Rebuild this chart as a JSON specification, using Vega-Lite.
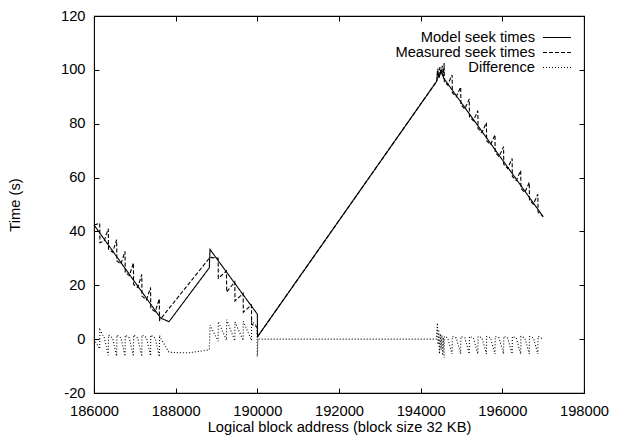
{
  "$schema": "https://vega.github.io/schema/vega-lite/v6.json",
  "width": 490,
  "height": 377,
  "autosize": {"type": "none"},
  "padding": {"left": 94, "top": 16, "right": 35, "bottom": 44},
  "background": "white",
  "config": {
    "view": {"stroke": "black", "strokeWidth": 1.1},
    "font": "Liberation Sans",
    "axis": {
      "grid": false,
      "domain": false,
      "tickColor": "black",
      "tickWidth": 1,
      "tickSize": -5,
      "labelFont": "Liberation Sans",
      "labelFontSize": 14.7,
      "labelColor": "black",
      "titleFont": "Liberation Sans",
      "titleFontSize": 14.7,
      "titleFontWeight": "normal",
      "titleColor": "black"
    }
  },
  "datasets": {
    "seek": [
      {"s": "Model seek times", "x": 186000, "y": 42.4},
      {"s": "Model seek times", "x": 187633, "y": 7.8},
      {"s": "Model seek times", "x": 187837, "y": 6.5},
      {"s": "Model seek times", "x": 188824, "y": 26.5},
      {"s": "Model seek times", "x": 188841, "y": 33.3},
      {"s": "Model seek times", "x": 190000, "y": 9.3},
      {"s": "Model seek times", "x": 190005, "y": 0.9},
      {"s": "Model seek times", "x": 194380, "y": 95.5},
      {"s": "Model seek times", "x": 194400, "y": 96},
      {"s": "Model seek times", "x": 194410, "y": 99.5},
      {"s": "Model seek times", "x": 194460, "y": 97.5},
      {"s": "Model seek times", "x": 194500, "y": 100},
      {"s": "Model seek times", "x": 194540, "y": 98},
      {"s": "Model seek times", "x": 194560, "y": 97},
      {"s": "Model seek times", "x": 197000, "y": 45.5},

      {"s": "Measured seek times", "x": 186000, "y": 42.4},
      {"s": "Measured seek times", "x": 186140, "y": 43.0},
      {"s": "Measured seek times", "x": 186145, "y": 35.8},
      {"s": "Measured seek times", "x": 186250, "y": 36.5},
      {"s": "Measured seek times", "x": 186350, "y": 41.0},
      {"s": "Measured seek times", "x": 186355, "y": 33.4},
      {"s": "Measured seek times", "x": 186455, "y": 32.3},
      {"s": "Measured seek times", "x": 186555, "y": 36.9},
      {"s": "Measured seek times", "x": 186560, "y": 29.0},
      {"s": "Measured seek times", "x": 186660, "y": 27.9},
      {"s": "Measured seek times", "x": 186760, "y": 32.6},
      {"s": "Measured seek times", "x": 186765, "y": 24.7},
      {"s": "Measured seek times", "x": 186865, "y": 23.6},
      {"s": "Measured seek times", "x": 186965, "y": 28.3},
      {"s": "Measured seek times", "x": 186970, "y": 20.3},
      {"s": "Measured seek times", "x": 187070, "y": 19.2},
      {"s": "Measured seek times", "x": 187170, "y": 24.0},
      {"s": "Measured seek times", "x": 187175, "y": 16.0},
      {"s": "Measured seek times", "x": 187285, "y": 14.6},
      {"s": "Measured seek times", "x": 187385, "y": 19.2},
      {"s": "Measured seek times", "x": 187390, "y": 11.4},
      {"s": "Measured seek times", "x": 187500, "y": 10.2},
      {"s": "Measured seek times", "x": 187600, "y": 15.0},
      {"s": "Measured seek times", "x": 187605, "y": 7.0},
      {"s": "Measured seek times", "x": 188841, "y": 30.4},
      {"s": "Measured seek times", "x": 189040, "y": 30.0},
      {"s": "Measured seek times", "x": 189045, "y": 22.6},
      {"s": "Measured seek times", "x": 189244, "y": 25.3},
      {"s": "Measured seek times", "x": 189249, "y": 17.5},
      {"s": "Measured seek times", "x": 189448, "y": 21.3},
      {"s": "Measured seek times", "x": 189453, "y": 14.2},
      {"s": "Measured seek times", "x": 189652, "y": 17.0},
      {"s": "Measured seek times", "x": 189657, "y": 10.0},
      {"s": "Measured seek times", "x": 189856, "y": 12.7},
      {"s": "Measured seek times", "x": 189861, "y": 5.5},
      {"s": "Measured seek times", "x": 189995, "y": 4.6},
      {"s": "Measured seek times", "x": 190005, "y": 0.9},
      {"s": "Measured seek times", "x": 194380, "y": 95.5},
      {"s": "Measured seek times", "x": 194400, "y": 96.5},
      {"s": "Measured seek times", "x": 194420, "y": 100.5},
      {"s": "Measured seek times", "x": 194440, "y": 97.0},
      {"s": "Measured seek times", "x": 194470, "y": 101.0},
      {"s": "Measured seek times", "x": 194500, "y": 98.0},
      {"s": "Measured seek times", "x": 194530, "y": 101.5},
      {"s": "Measured seek times", "x": 194560, "y": 97.5},
      {"s": "Measured seek times", "x": 194575, "y": 102.5},
      {"s": "Measured seek times", "x": 194580, "y": 95.6},
      {"s": "Measured seek times", "x": 194660, "y": 94.4},
      {"s": "Measured seek times", "x": 194770, "y": 98.1},
      {"s": "Measured seek times", "x": 194775, "y": 91.5},
      {"s": "Measured seek times", "x": 194870, "y": 90.0},
      {"s": "Measured seek times", "x": 194980, "y": 93.6},
      {"s": "Measured seek times", "x": 194985, "y": 87.0},
      {"s": "Measured seek times", "x": 195080, "y": 85.5},
      {"s": "Measured seek times", "x": 195190, "y": 89.2},
      {"s": "Measured seek times", "x": 195195, "y": 82.6},
      {"s": "Measured seek times", "x": 195290, "y": 81.1},
      {"s": "Measured seek times", "x": 195400, "y": 84.8},
      {"s": "Measured seek times", "x": 195405, "y": 78.2},
      {"s": "Measured seek times", "x": 195500, "y": 76.7},
      {"s": "Measured seek times", "x": 195610, "y": 80.4},
      {"s": "Measured seek times", "x": 195615, "y": 73.7},
      {"s": "Measured seek times", "x": 195710, "y": 72.2},
      {"s": "Measured seek times", "x": 195820, "y": 75.9},
      {"s": "Measured seek times", "x": 195825, "y": 69.3},
      {"s": "Measured seek times", "x": 195920, "y": 67.8},
      {"s": "Measured seek times", "x": 196030, "y": 71.5},
      {"s": "Measured seek times", "x": 196035, "y": 64.9},
      {"s": "Measured seek times", "x": 196130, "y": 63.4},
      {"s": "Measured seek times", "x": 196240, "y": 67.1},
      {"s": "Measured seek times", "x": 196245, "y": 60.4},
      {"s": "Measured seek times", "x": 196340, "y": 58.9},
      {"s": "Measured seek times", "x": 196450, "y": 62.6},
      {"s": "Measured seek times", "x": 196455, "y": 56.0},
      {"s": "Measured seek times", "x": 196550, "y": 54.5},
      {"s": "Measured seek times", "x": 196660, "y": 58.2},
      {"s": "Measured seek times", "x": 196665, "y": 51.6},
      {"s": "Measured seek times", "x": 196760, "y": 50.1},
      {"s": "Measured seek times", "x": 196870, "y": 53.8},
      {"s": "Measured seek times", "x": 196875, "y": 47.2},
      {"s": "Measured seek times", "x": 197000, "y": 45.5},

      {"s": "Difference", "x": 186000, "y": 0},
      {"s": "Difference", "x": 186140, "y": -3.6},
      {"s": "Difference", "x": 186145, "y": 3.5},
      {"s": "Difference", "x": 186250, "y": 0.6},
      {"s": "Difference", "x": 186350, "y": -6.0},
      {"s": "Difference", "x": 186355, "y": 1.5},
      {"s": "Difference", "x": 186455, "y": 0.5},
      {"s": "Difference", "x": 186555, "y": -6.3},
      {"s": "Difference", "x": 186560, "y": 1.5},
      {"s": "Difference", "x": 186660, "y": 0.5},
      {"s": "Difference", "x": 186760, "y": -6.3},
      {"s": "Difference", "x": 186765, "y": 1.5},
      {"s": "Difference", "x": 186865, "y": 0.5},
      {"s": "Difference", "x": 186965, "y": -6.4},
      {"s": "Difference", "x": 186970, "y": 1.5},
      {"s": "Difference", "x": 187070, "y": 0.5},
      {"s": "Difference", "x": 187170, "y": -6.4},
      {"s": "Difference", "x": 187175, "y": 1.5},
      {"s": "Difference", "x": 187285, "y": 0.6},
      {"s": "Difference", "x": 187385, "y": -6.2},
      {"s": "Difference", "x": 187390, "y": 1.5},
      {"s": "Difference", "x": 187500, "y": 0.4},
      {"s": "Difference", "x": 187600, "y": -6.5},
      {"s": "Difference", "x": 187605, "y": 1.4},
      {"s": "Difference", "x": 187633, "y": 0.3},
      {"s": "Difference", "x": 187837, "y": -4.9},
      {"s": "Difference", "x": 188300, "y": -5.1},
      {"s": "Difference", "x": 188824, "y": -4.0},
      {"s": "Difference", "x": 188841, "y": 5.2},
      {"s": "Difference", "x": 189040, "y": -0.8},
      {"s": "Difference", "x": 189045, "y": 6.5},
      {"s": "Difference", "x": 189244, "y": -0.3},
      {"s": "Difference", "x": 189249, "y": 7.2},
      {"s": "Difference", "x": 189448, "y": -0.6},
      {"s": "Difference", "x": 189453, "y": 6.4},
      {"s": "Difference", "x": 189652, "y": -0.5},
      {"s": "Difference", "x": 189657, "y": 6.6},
      {"s": "Difference", "x": 189856, "y": -0.4},
      {"s": "Difference", "x": 189861, "y": 6.7},
      {"s": "Difference", "x": 189995, "y": 4.8},
      {"s": "Difference", "x": 190000, "y": -6.5},
      {"s": "Difference", "x": 190015, "y": 0},
      {"s": "Difference", "x": 194380, "y": 0},
      {"s": "Difference", "x": 194395, "y": 3},
      {"s": "Difference", "x": 194410, "y": 6},
      {"s": "Difference", "x": 194425, "y": -2},
      {"s": "Difference", "x": 194440, "y": 3.5},
      {"s": "Difference", "x": 194460, "y": -5.5},
      {"s": "Difference", "x": 194480, "y": 2},
      {"s": "Difference", "x": 194500, "y": -4},
      {"s": "Difference", "x": 194520, "y": 1.5},
      {"s": "Difference", "x": 194540, "y": -6},
      {"s": "Difference", "x": 194560, "y": 0.5},
      {"s": "Difference", "x": 194575, "y": -7},
      {"s": "Difference", "x": 194580, "y": 1.0},
      {"s": "Difference", "x": 194660, "y": 0.5},
      {"s": "Difference", "x": 194770, "y": -5.5},
      {"s": "Difference", "x": 194775, "y": 1.0},
      {"s": "Difference", "x": 194870, "y": 0.5},
      {"s": "Difference", "x": 194980, "y": -5.5},
      {"s": "Difference", "x": 194985, "y": 1.0},
      {"s": "Difference", "x": 195080, "y": 0.5},
      {"s": "Difference", "x": 195190, "y": -5.5},
      {"s": "Difference", "x": 195195, "y": 1.0},
      {"s": "Difference", "x": 195290, "y": 0.5},
      {"s": "Difference", "x": 195400, "y": -5.5},
      {"s": "Difference", "x": 195405, "y": 1.0},
      {"s": "Difference", "x": 195500, "y": 0.5},
      {"s": "Difference", "x": 195610, "y": -5.5},
      {"s": "Difference", "x": 195615, "y": 1.0},
      {"s": "Difference", "x": 195710, "y": 0.5},
      {"s": "Difference", "x": 195820, "y": -5.5},
      {"s": "Difference", "x": 195825, "y": 1.0},
      {"s": "Difference", "x": 195920, "y": 0.5},
      {"s": "Difference", "x": 196030, "y": -5.5},
      {"s": "Difference", "x": 196035, "y": 1.0},
      {"s": "Difference", "x": 196130, "y": 0.5},
      {"s": "Difference", "x": 196240, "y": -5.5},
      {"s": "Difference", "x": 196245, "y": 1.0},
      {"s": "Difference", "x": 196340, "y": 0.5},
      {"s": "Difference", "x": 196450, "y": -5.5},
      {"s": "Difference", "x": 196455, "y": 1.0},
      {"s": "Difference", "x": 196550, "y": 0.5},
      {"s": "Difference", "x": 196660, "y": -5.5},
      {"s": "Difference", "x": 196665, "y": 1.0},
      {"s": "Difference", "x": 196760, "y": 0.5},
      {"s": "Difference", "x": 196870, "y": -5.5},
      {"s": "Difference", "x": 196875, "y": 1.0},
      {"s": "Difference", "x": 197000, "y": 0}
    ]
  },
  "data": {"name": "seek"},
  "layer": [
    {
      "mark": {"type": "line", "color": "black", "strokeWidth": 1.1},
      "encoding": {
        "x": {
          "field": "x", "type": "quantitative",
          "scale": {"domain": [186000, 198000], "nice": false, "zero": false},
          "axis": {
            "orient": "bottom",
            "values": [186000, 188000, 190000, 192000, 194000, 196000, 198000],
            "labelExpr": "'' + datum.value",
            "labelFlush": false,
            "labelOverlap": false,
            "labelPadding": 15,
            "title": "Logical block address (block size 32 KB)",
            "titlePadding": 2
          }
        },
        "y": {
          "field": "y", "type": "quantitative",
          "scale": {"domain": [-20, 120], "nice": false, "zero": false},
          "axis": {
            "orient": "left",
            "values": [-20, 0, 20, 40, 60, 80, 100, 120],
            "labelExpr": "'' + datum.value",
            "labelFlush": false,
            "labelOverlap": false,
            "labelPadding": 14,
            "title": "Time (s)",
            "titlePadding": 38
          }
        },
        "strokeDash": {
          "field": "s", "type": "nominal",
          "scale": {
            "domain": ["Model seek times", "Measured seek times", "Difference"],
            "range": [[1, 0], [4, 2], [1, 2]]
          },
          "legend": {
            "orient": "none",
            "legendX": 455,
            "legendY": 13.5,
            "direction": "vertical",
            "title": null,
            "padding": 0,
            "rowPadding": 0,
            "symbolType": "M-2,0H2",
            "symbolSize": 196,
            "symbolStrokeColor": "black",
            "symbolStrokeWidth": 1.1,
            "labelAlign": "right",
            "labelOffset": -30,
            "labelFont": "Liberation Sans",
            "labelFontSize": 14.7,
            "labelColor": "black",
            "labelLimit": 300
          }
        }
      }
    },
    {
      "mark": {"type": "point", "opacity": 0},
      "encoding": {
        "x": {
          "field": "x", "type": "quantitative",
          "axis": {
            "orient": "top",
            "values": [186000, 188000, 190000, 192000, 194000, 196000, 198000],
            "labels": false,
            "title": null
          }
        },
        "y": {
          "field": "y", "type": "quantitative",
          "axis": {
            "orient": "right",
            "values": [-20, 0, 20, 40, 60, 80, 100, 120],
            "labels": false,
            "title": null
          }
        }
      }
    }
  ],
  "resolve": {"axis": {"x": "independent", "y": "independent"}}
}
